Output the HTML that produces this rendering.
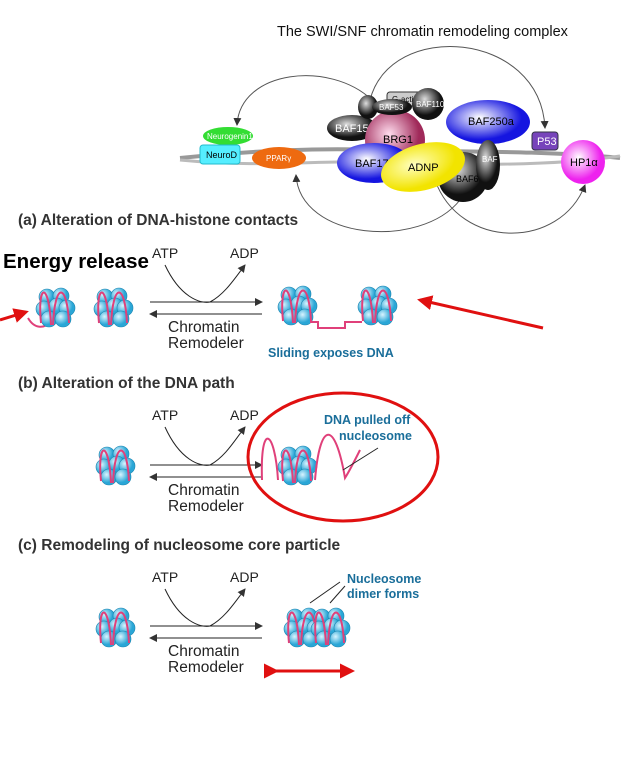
<!DOCTYPE html>
<html><head><meta charset="utf-8"><style>
body{margin:0;background:#fff}
svg{display:block}
text{font-family:"Liberation Sans",sans-serif}
</style></head><body>
<svg id="s" width="637" height="769" viewBox="0 0 637 769">
<defs>
<radialGradient id="gb" cx="35%" cy="35%"><stop offset="0" stop-color="#d8f4ff"/><stop offset="1" stop-color="#2aa6d6"/></radialGradient>
<radialGradient id="gd" cx="40%" cy="35%"><stop offset="0" stop-color="#ddd"/><stop offset="1" stop-color="#111"/></radialGradient>
<radialGradient id="gbl" cx="40%" cy="40%"><stop offset="0" stop-color="#fff"/><stop offset="1" stop-color="#1515e0"/></radialGradient>
<radialGradient id="gp" cx="40%" cy="40%"><stop offset="0" stop-color="#fde"/><stop offset="1" stop-color="#a02a5a"/></radialGradient>
<radialGradient id="gy" cx="40%" cy="40%"><stop offset="0" stop-color="#ffffc0"/><stop offset="1" stop-color="#f2e400"/></radialGradient>
<radialGradient id="gm" cx="40%" cy="40%"><stop offset="0" stop-color="#fff"/><stop offset="1" stop-color="#ee22ee"/></radialGradient>
<marker id="ah" markerWidth="8" markerHeight="8" refX="7" refY="4" orient="auto"><path d="M0,0 L8,4 L0,8 z" fill="#333"/></marker>
<marker id="rh" markerWidth="5" markerHeight="5" refX="4" refY="2.5" orient="auto"><path d="M0,0 L5,2.5 L0,5 z" fill="#e01010"/></marker>
</defs>
<text x="277" y="36" font-size="14.5" fill="#111">The SWI/SNF chromatin remodeling complex</text>
<g font-family="Liberation Serif" font-size="11">
<path d="M180,158 C260,150 320,148 380,150 S540,150 620,158" stroke="#999" stroke-width="4" fill="none"/>
<path d="M180,160 C260,168 320,160 380,162 S540,168 620,156" stroke="#bbb" stroke-width="3" fill="none"/>
<path d="M372,100 C330,60 240,70 237,125" stroke="#555" fill="none" marker-end="url(#ah)"/>
<path d="M370,100 C390,20 540,30 545,128" stroke="#555" fill="none" marker-end="url(#ah)"/>
<path d="M460,200 C420,250 300,240 296,175" stroke="#555" fill="none" marker-end="url(#ah)"/>
<path d="M435,180 C460,250 560,250 585,185" stroke="#555" fill="none" marker-end="url(#ah)"/>
<ellipse cx="228" cy="136" rx="25" ry="9" fill="#33dd33"/><text x="207" y="139" font-size="8" fill="#fff">Neurogenin1</text>
<rect x="200" y="145" width="40" height="19" rx="3" fill="#5ef" stroke="#2bc"/><text x="206" y="158" font-size="9">NeuroD</text>
<ellipse cx="279" cy="158" rx="27" ry="11" fill="#ee6a10"/><text x="266" y="161" font-size="8" fill="#fff">PPARγ</text>
<ellipse cx="488" cy="122" rx="42" ry="22" fill="url(#gbl)"/><text x="468" y="125">BAF250a</text>
<ellipse cx="352" cy="128" rx="25" ry="13" fill="url(#gd)"/><text x="335" y="132" fill="#fff">BAF155</text>
<circle cx="395" cy="140" r="30" fill="url(#gp)"/><text x="383" y="143">BRG1</text>
<rect x="387" y="92" width="38" height="14" rx="3" fill="#ccc" stroke="#333"/><text x="392" y="102" font-size="8">G-actin</text>
<ellipse cx="368" cy="107" rx="10" ry="12" fill="url(#gd)"/>
<ellipse cx="392" cy="107" rx="20" ry="8" fill="url(#gd)"/><text x="379" y="110" font-size="8" fill="#fff">BAF53</text>
<circle cx="428" cy="104" r="16" fill="url(#gd)"/><text x="416" y="107" font-size="8" fill="#fff">BAF110</text>
<ellipse cx="374" cy="163" rx="37" ry="20" fill="url(#gbl)"/><text x="355" y="167">BAF170</text>
<ellipse cx="463" cy="177" rx="25" ry="25" fill="url(#gd)"/><text x="456" y="182" font-size="9">BAF60</text>
<ellipse cx="488" cy="165" rx="12" ry="25" fill="url(#gd)"/><text x="482" y="162" font-size="8" fill="#fff">BAF</text>
<ellipse cx="423" cy="167" rx="43" ry="23" fill="url(#gy)" transform="rotate(-15 423 167)"/><text x="408" y="171">ADNP</text>
<rect x="532" y="132" width="26" height="18" rx="3" fill="#7744bb" stroke="#334"/><text x="537" y="145" fill="#fff">P53</text>
<circle cx="583" cy="162" r="22" fill="url(#gm)"/><text x="570" y="166">HP1α</text>
</g>
<g id="parts"></g>
<text x="18" y="225" font-size="15.5" font-weight="bold" fill="#333">(a) Alteration of DNA-histone contacts</text>
<text x="3" y="268" font-size="20.5" font-weight="bold" fill="#000">Energy release</text>
<text x="18" y="388" font-size="15.5" font-weight="bold" fill="#333">(b) Alteration of the DNA path</text>
<text x="18" y="550" font-size="15.5" font-weight="bold" fill="#333">(c) Remodeling of nucleosome core particle</text>
<text x="268" y="357" font-size="12.5" font-weight="bold" fill="#1a6e9a">Sliding exposes DNA</text>
<text x="324" y="424" font-size="12.5" font-weight="bold" fill="#1a6e9a">DNA pulled off</text>
<text x="339" y="440" font-size="12.5" font-weight="bold" fill="#1a6e9a">nucleosome</text>
<text x="347" y="583" font-size="12.5" font-weight="bold" fill="#1a6e9a">Nucleosome</text>
<text x="347" y="598" font-size="12.5" font-weight="bold" fill="#1a6e9a">dimer forms</text>
<ellipse cx="343" cy="457" rx="95" ry="64" fill="none" stroke="#e01010" stroke-width="3"/>
<line x1="0" y1="320" x2="26" y2="312" stroke="#e01010" stroke-width="3" marker-end="url(#rh)"/>
<line x1="543" y1="328" x2="420" y2="300" stroke="#e01010" stroke-width="3" marker-end="url(#rh)"/>
<line x1="276" y1="671" x2="352" y2="671" stroke="#e01010" stroke-width="3" marker-end="url(#rh)" marker-start="url(#rh)"/>
</svg>
<script>
const ns="http://www.w3.org/2000/svg";
const P=document.getElementById('parts');
function el(t,a,txt){const e=document.createElementNS(ns,t);for(const k in a)e.setAttribute(k,a[k]);if(txt)e.textContent=txt;P.appendChild(e);return e;}
function nuc(cx,cy){
  const pts=[[-8,-10],[6,-11],[-11,2],[2,-1],[12,1],[-6,12],[8,12]];
  pts.forEach(p=>{el('circle',{cx:cx+p[0],cy:cy+p[1],r:8,fill:'url(#gb)',stroke:'#1a84b0','stroke-width':0.6});});
  const d=el('path',{d:`M${cx-14},${cy+16} C${cx-18},${cy-24} ${cx-6},${cy-26} ${cx-4},${cy+18} M${cx-2},${cy+18} C${cx},${cy-26} ${cx+12},${cy-24} ${cx+14},${cy+16}`,stroke:'#e0407a','stroke-width':2,fill:'none'});
  
  
}
function reaction(y0,yArr){
  let t=el('text',{x:152,y:y0,'font-size':14,fill:'#222'},'ATP');
  
  
  t=el('text',{x:230,y:y0,'font-size':14,fill:'#222'},'ADP');
  
  
  el('path',{d:`M165,${y0+7} C180,${yArr-5} 200,${yArr+2} 210,${yArr} C225,${yArr-8} 235,${y0+20} 245,${y0+7}`,stroke:'#222',fill:'none','marker-end':'url(#ah)'});
  el('line',{x1:150,y1:yArr,x2:262,y2:yArr,stroke:'#222','marker-end':'url(#ah)'});
  el('line',{x1:262,y1:yArr+12,x2:150,y2:yArr+12,stroke:'#222','marker-end':'url(#ah)'});
  t=el('text',{x:168,y:yArr+30,'font-size':15.5,fill:'#222'},'Chromatin');
  
  
  t=el('text',{x:168,y:yArr+46,'font-size':15.5,fill:'#222'},'Remodeler');
  
  
}
reaction(258,302);
reaction(420,465);
reaction(582,626);
el('path',{d:'M28,318 C35,330 45,328 50,322',stroke:'#e0407a','stroke-width':2,fill:'none'});
nuc(55,307);nuc(113,307);nuc(297,305);
el('path',{d:'M310,322 L318,322 L318,328 L345,328 L345,322 L362,322',stroke:'#e0407a','stroke-width':2,fill:'none'});
nuc(377,305);
nuc(115,465);nuc(297,465);
el('path',{d:'M262,480 C260,420 275,430 278,480 M315,480 C320,420 335,420 345,478 C350,470 355,460 360,450',stroke:'#e0407a','stroke-width':2,fill:'none'});
el('line',{x1:343,y1:470,x2:378,y2:448,stroke:'#222'});
nuc(115,627);nuc(303,627);nuc(330,627);
el('line',{x1:310,y1:603,x2:340,y2:582,stroke:'#222'});
el('line',{x1:330,y1:603,x2:345,y2:586,stroke:'#222'});
</script>
</body></html>
